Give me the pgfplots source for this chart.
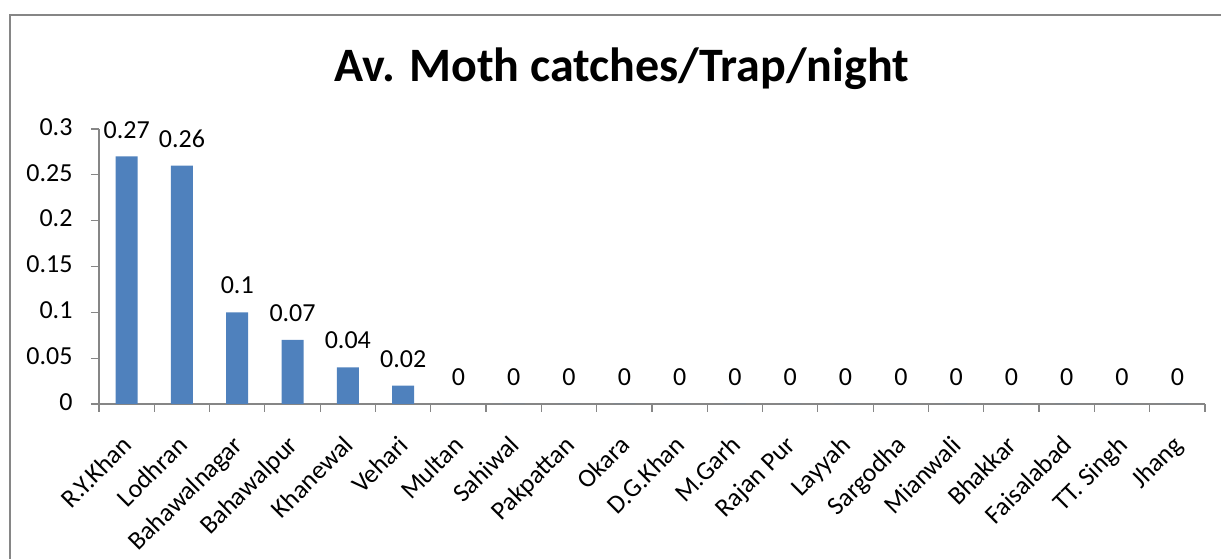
\documentclass[border=0pt]{standalone}
\usepackage{pgfplots}
\pgfplotsset{compat=1.18}
\usepackage{fontspec}
\setmainfont{Carlito}
\definecolor{barblue}{HTML}{4F81BD}
\definecolor{axgray}{HTML}{868686}
\begin{document}
\begin{tikzpicture}[x=1pt,y=1pt]
\useasboundingbox (0,0) rectangle (1221,559);
\draw[axgray, line width=1.5pt] (10,-20) -- (10,544) -- (1240,544);
\node[font=\fontsize{48}{52}\selectfont\bfseries, anchor=base] at (622,477) {Av. Moth catches/Trap/night};
\begin{axis}[
  at={(99pt,155pt)}, anchor=south west,
  scale only axis, width=1106pt, height=275pt,
  xmin=-0.5, xmax=19.5, ymin=0, ymax=0.3,
  axis x line=bottom, axis y line=left,
  axis line style={axgray, line width=1.2pt, -},
  clip=false,
  ybar, bar width=22pt,
  xtick={-0.5,0.5,...,19.5}, xticklabels={},
  extra x ticks={0,1,...,19},
  extra x tick labels={R.Y.Khan,Lodhran,Bahawalnagar,Bahawalpur,Khanewal,Vehari,Multan,Sahiwal,Pakpattan,Okara,D.G.Khan,M.Garh,Rajan Pur,Layyah,Sargodha,Mianwali,Bhakkar,Faisalabad,TT. Singh,Jhang},
  extra x tick style={major tick length=0pt},
  xticklabel style={yshift=-27pt, xshift=-6pt, rotate=45, anchor=north east, inner sep=2pt},
  ytick={0,0.05,0.1,0.15,0.2,0.25,0.3},
  yticklabels={0,0.05,0.1,0.15,0.2,0.25,0.3},
  yticklabel style={xshift=-15pt, yshift=2pt},
  tick align=outside, major tick length=8pt,
  tick style={axgray, line width=1.2pt},
  tick label style={font=\fontsize{26}{30}\selectfont},
  point meta=explicit symbolic,
  nodes near coords,
  every node near coord/.append style={font=\fontsize{26}{30}\selectfont, inner sep=0pt, anchor=south, yshift=18pt, black},
]
\addplot[fill=barblue, draw=none] coordinates {
(0,0.27) [0.27]
(1,0.26) [0.26]
(2,0.1) [0.1]
(3,0.07) [0.07]
(4,0.04) [0.04]
(5,0.02) [0.02]
(6,0) [0]
(7,0) [0]
(8,0) [0]
(9,0) [0]
(10,0) [0]
(11,0) [0]
(12,0) [0]
(13,0) [0]
(14,0) [0]
(15,0) [0]
(16,0) [0]
(17,0) [0]
(18,0) [0]
(19,0) [0]
};
\end{axis}
\end{tikzpicture}
\end{document}
